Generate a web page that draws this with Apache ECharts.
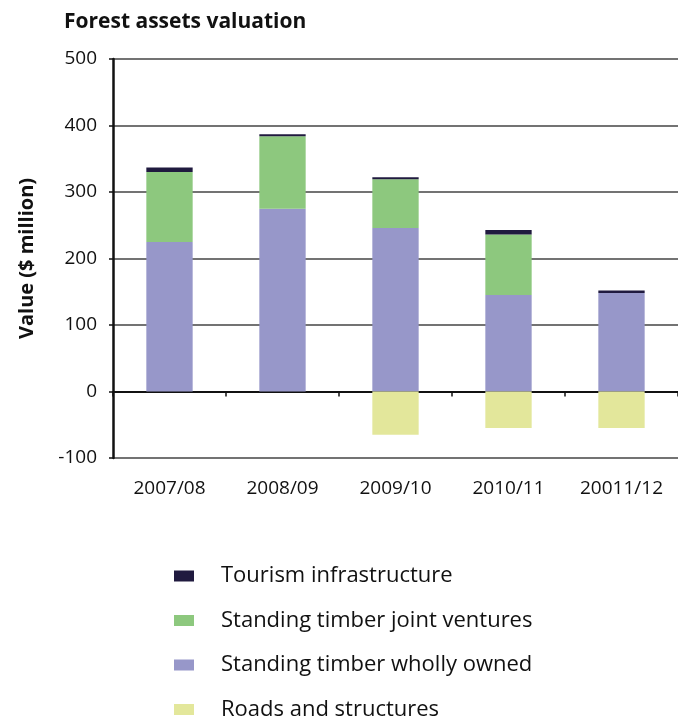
<!DOCTYPE html>
<html>
<head>
<meta charset="utf-8">
<script src="https://cdn.jsdelivr.net/npm/echarts@6/dist/echarts.min.js"></script>
<style>
  html, body { margin: 0; padding: 0; background: #fff; }
  #chart { width: 678px; height: 716px; }
</style>
</head>
<body>
<div id="chart"></div>
<script>
// data ($ million)
var years = ['2007/08', '2008/09', '2009/10', '2010/11', '20011/12'];
var whollyOwned = [225, 275, 246, 145, 148];
var jointVentures = [105, 109, 73, 91, 0];
var tourism = [7, 3, 3, 7, 4];
var roads = [0, 0, -65, -55, -55];
var yTicks = [-100, 0, 100, 200, 300, 400, 500];

var font = '"Open Sans", "Noto Sans", sans-serif';

var chart = echarts.init(document.getElementById('chart'), null, { renderer: 'canvas' });

var option = {
  animation: false,
  textStyle: { fontFamily: font },
  title: {
    text: 'Forest assets valuation',
    left: 64,
    top: 12,
    padding: 0,
    textStyle: { fontFamily: font, fontSize: 21, fontWeight: 'bold', color: '#111' }
  },
  grid: {
    left: 113,
    right: -4,
    top: 59,
    bottom: 258,
    containLabel: false
  },
  legend: {
    orient: 'vertical',
    left: 174,
    top: 565,
    padding: 0,
    height: 160,
    itemWidth: 20,
    itemHeight: 11,
    itemGap: 22.5,
    icon: 'rect',
    data: ['Tourism infrastructure', 'Standing timber joint ventures', 'Standing timber wholly owned', 'Roads and structures'],
    textStyle: { fontFamily: font, fontSize: 22, color: '#111', padding: [0, 0, 0, 22] }
  },
  xAxis: [{
    // labels along the bottom
    type: 'category',
    data: years,
    position: 'bottom',
    axisLine: { show: false, onZero: false },
    axisTick: { show: false },
    axisLabel: { fontSize: 19, color: '#111', margin: 21, interval: 0 }
  }, {
    // black line with ticks through zero
    type: 'category',
    data: years,
    position: 'bottom',
    axisLine: { show: true, onZero: true, lineStyle: { color: '#111', width: 2 } },
    axisTick: { show: true, length: 5, lineStyle: { color: '#111', width: 1.5 } },
    axisLabel: { show: false }
  }],
  yAxis: {
    type: 'value',
    min: yTicks[0],
    max: yTicks[yTicks.length - 1],
    interval: 100,
    name: 'Value ($ million)',
    nameLocation: 'middle',
    nameGap: 76,
    nameTextStyle: { fontFamily: font, fontSize: 20, fontWeight: 'bold', color: '#111' },
    axisLine: { show: true, lineStyle: { color: '#111', width: 2.5 } },
    axisTick: { show: true, length: 4, lineStyle: { color: '#111', width: 1.5 } },
    axisLabel: { fontSize: 19, color: '#111', margin: 16 },
    splitLine: { show: true, lineStyle: { color: '#444', width: 1.5 } }
  },
  series: [{
    name: 'Standing timber wholly owned',
    type: 'bar',
    stack: 'v',
    barWidth: '41%',
    itemStyle: { color: '#9797c9' },
    data: whollyOwned
  }, {
    name: 'Standing timber joint ventures',
    type: 'bar',
    stack: 'v',
    itemStyle: { color: '#8dc87e' },
    data: jointVentures
  }, {
    name: 'Tourism infrastructure',
    type: 'bar',
    stack: 'v',
    itemStyle: { color: '#201a3f' },
    data: tourism
  }, {
    name: 'Roads and structures',
    type: 'bar',
    stack: 'v',
    itemStyle: { color: '#e3e79b' },
    data: roads
  }]
};

chart.setOption(option);
</script>
</body>
</html>
